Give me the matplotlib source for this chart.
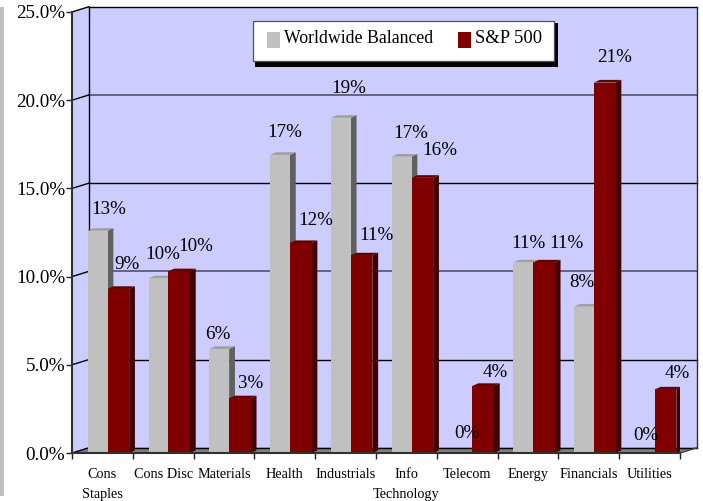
import matplotlib
matplotlib.use('Agg')
import matplotlib.pyplot as plt
from matplotlib.patches import Rectangle

plt.rcParams['font.family'] = ['Liberation Serif', 'DejaVu Serif']

categories = ['Cons\nStaples', 'Cons Disc', 'Materials', 'Health', 'Industrials',
              'Info\nTechnology', 'Telecom', 'Energy', 'Financials', 'Utilities']
balanced = [12.6, 9.9, 5.9, 16.9, 19.0, 16.8, 0, 10.8, 8.3, 0]
sp500 = [9.3, 10.3, 3.1, 11.9, 11.2, 15.6, 3.8, 10.8, 21.0, 3.6]
balanced_labels = ['13%', '10%', '6%', '17%', '19%', '17%', '0%', '11%', '8%', '0%']
sp500_labels = ['9%', '10%', '3%', '12%', '11%', '16%', '4%', '11%', '21%', '4%']
y_ticks = [0, 5, 10, 15, 20, 25]

# label nudges from the top of each bar, in pixels
balanced_nudge = [(11, 21), (4, 24), (-1, 14), (5, 22), (8, 29), (9, 23), (4, 19), (5, 19), (-2, 24), (1, 17)]
sp500_nudge = [(9, 24), (17, 25), (11, 15), (15, 23), (15, 20), (17, 27), (12, 13), (22, 19), (10, 25), (12, 16)]

GRAY, GRAY_SIDE, GRAY_TOP = '#c0c0c0', '#606060', '#a0a0a0'
RED, RED_SIDE, RED_TOP = '#800000', '#400000', '#600000'
WALL = '#ccccff'

fig = plt.figure(figsize=(7.03, 5.01), dpi=100)
ax = fig.add_axes([72 / 703, 48 / 501, 608 / 703, 441 / 501])
ax.set_xlim(0, 10)
ax.set_ylim(0, 25)
ax.patch.set_visible(False)


def fig_box(x0, y0, x1, y1, **kw):
    # box on the page, given in pixels from the top left
    fig.add_artist(Rectangle((x0 / 703, 1 - y1 / 501), (x1 - x0) / 703, (y1 - y0) / 501,
                             transform=fig.transFigure, **kw))


# strip down the left edge of the page
fig_box(0, 7, 4, 496, color='#c0c0c0', lw=0)

# depth of the chart box, in data units
dx, dy = 0.28, 0.3
# back wall, side wall, floor
ax.fill([dx, 10 + dx, 10 + dx, dx], [dy, dy, 25 + dy, 25 + dy], color=WALL, lw=0, clip_on=False, zorder=1)
ax.fill([0, dx, dx, 0], [0, dy, 25 + dy, 25], color=WALL, lw=0, clip_on=False, zorder=1)
ax.fill([0, 10, 10 + dx, dx], [0, 0, dy, dy], color='#808080', lw=0, clip_on=False, zorder=1)

for v in y_ticks:
    if v in (10, 20):
        c, lw = '#5a5a78', 1.3
    else:
        c, lw = 'black', 1
    ax.plot([dx, 10 + dx], [v + dy, v + dy], color=c, lw=lw, clip_on=False, zorder=2)
    ax.plot([0, dx], [v, v + dy], color='black', lw=1, clip_on=False, zorder=2)
ax.plot([dx, dx], [dy, 25 + dy], color='black', lw=1, clip_on=False, zorder=2)
ax.plot([10 + dx, 10 + dx], [dy, 25 + dy], color='#303030', lw=1, clip_on=False, zorder=2)
ax.plot([10, 10 + dx], [0, dy], color='#404040', lw=1, clip_on=False, zorder=2)

# bars with fake 3d faces
w1, w2 = 0.325, 0.355
start = 0.26
bdx, bdy = 0.095, 0.15
for i in range(10):
    x1 = i + start
    x2 = x1 + w1
    for x, w, v, c, side, top in [(x1, w1, balanced[i], GRAY, GRAY_SIDE, GRAY_TOP),
                                  (x2, w2, sp500[i], RED, RED_SIDE, RED_TOP)]:
        if v == 0:
            continue
        ax.fill([x + w, x + w + bdx, x + w + bdx, x + w], [0, bdy, v + bdy, v], color=side, lw=0, zorder=3)
        ax.fill([x, x + w, x + w + bdx, x + bdx], [v, v, v + bdy, v + bdy], color=top, lw=0, zorder=3)
        ax.bar(x, v, width=w, align='edge', color=c, lw=0, zorder=3)
    ax.annotate(balanced_labels[i], (x1 + w1 / 2, balanced[i]), xytext=balanced_nudge[i], textcoords='offset pixels',
                ha='center', va='center', fontsize=13.7, zorder=5, annotation_clip=False)
    ax.annotate(sp500_labels[i], (x2 + w2 / 2, sp500[i]), xytext=sp500_nudge[i], textcoords='offset pixels',
                ha='center', va='center', fontsize=13.7, zorder=5, annotation_clip=False)

ax.set_xticks(range(11))
ax.set_xticklabels([])
ax.set_xticks([i + 0.5 for i in range(10)], categories, minor=True, fontsize=10.3, linespacing=1.7, va='top')
ax.tick_params(axis='x', which='minor', length=0, pad=11)
ax.tick_params(axis='x', which='major', length=4, width=1, color='#202020')
ax.set_yticks(y_ticks, ['%.1f%%' % v for v in y_ticks], fontsize=13.8)
ax.tick_params(axis='y', length=4, width=1, color='#202020', pad=1)

for s in ['top', 'right']:
    ax.spines[s].set_visible(False)
for s in ['left', 'bottom']:
    ax.spines[s].set_linewidth(1.5)
    ax.spines[s].set_color('#303030')
    ax.spines[s].set_zorder(4)

# legend box with its hard shadow
fig_box(255, 23, 558, 67, facecolor='black', lw=0, zorder=6)
fig_box(252.5, 20.5, 553.5, 60.5, facecolor='white', edgecolor='#505060', lw=0.9, zorder=7)
fig_box(267, 32, 280, 48, facecolor=GRAY, lw=0, zorder=8)
fig_box(458, 32, 471, 48, facecolor=RED, lw=0, zorder=8)
fig.text(284 / 703, 1 - 43 / 501, 'Worldwide Balanced', fontsize=12.8, va='baseline', zorder=8)
fig.text(475 / 703, 1 - 43 / 501, 'S&P 500', fontsize=13.4, va='baseline', zorder=8)

fig.savefig('out.png', dpi=100)
